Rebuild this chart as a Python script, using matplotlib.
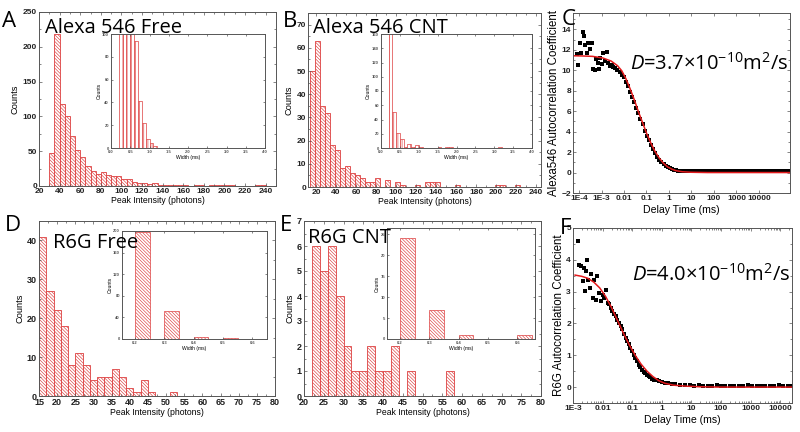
import numpy as np
import matplotlib
matplotlib.use('Agg')
import matplotlib.pyplot as plt
from matplotlib.ticker import MultipleLocator, LogLocator, NullFormatter

plt.rcParams['font.family'] = ['Liberation Sans', 'DejaVu Sans']
plt.rcParams['font.weight'] = 'bold'
plt.rcParams['hatch.linewidth'] = 0.45
plt.rcParams['mathtext.fontset'] = 'custom'
plt.rcParams['mathtext.rm'] = 'Open Sans:normal'
plt.rcParams['mathtext.it'] = 'Open Sans:italic:normal'

RED = '#dd3f3f'
FRAME = '#555555'
BIG = 'Open Sans'

# ---- data: peak intensity histograms (left edges, counts) ----
a_left = list(range(30, 240, 5))
a_counts = [48, 218, 118, 101, 72, 52, 42, 29, 22, 17, 20, 16, 14, 15, 10, 10, 6, 5, 4, 3,
            4, 2, 1, 1, 1, 1, 1, 0, 1, 1, 0, 1, 1, 1, 1, 1, 0, 0, 0, 0, 1, 1]
b_left = list(range(14, 224, 5))
b_counts = [50, 63, 35, 32, 18, 16, 8, 9, 6, 5, 4, 2, 2, 4, 0, 3, 0, 2, 1, 0,
            0, 1, 0, 2, 2, 2, 0, 0, 0, 1, 0, 0, 0, 0, 0, 0, 0, 1, 1, 0, 0, 1]
d_left = list(range(15, 53, 2))
d_counts = [41, 27, 22, 18, 8, 11, 8, 4, 5, 5, 7, 5, 2, 1, 4, 1, 0, 0, 1]
e_left = list(range(22, 58, 2))
e_counts = [6, 5, 6, 4, 2, 1, 1, 2, 1, 1, 2, 0, 1, 0, 0, 0, 0, 1]

# ---- data: width histograms (insets) ----
ai_left = [0.2, 0.3, 0.4, 0.5, 0.6, 0.7, 0.8, 0.9, 1.0, 1.1]
ai_counts = [400, 350, 250, 130, 94, 41, 22, 8, 4, 2]
bi_left = [0.2, 0.3, 0.4, 0.5, 0.6, 0.7, 0.8, 0.9, 1.0, 1.1, 1.2, 1.3, 1.4, 1.5, 1.6,
           1.7, 1.8, 1.9, 2.0, 2.1, 2.2, 2.3, 2.4, 2.5, 2.6, 2.7, 2.8, 2.9, 3.0, 3.1]
bi_counts = [170, 51, 21, 12, 2, 5, 1, 4, 2, 0, 0, 0, 0, 1, 0, 1, 1, 0, 0, 0,
             0, 0, 0, 0, 0, 0, 0, 0, 0, 1]
di_left = [0.2, 0.3, 0.4, 0.5]
di_counts = [198, 52, 3, 1]
ei_left = [0.2, 0.3, 0.4, 0.5, 0.6]
ei_counts = [24, 7, 1, 0, 1]

# ---- data: autocorrelation (log10 delay in ms, G) ----
c_logt = [-4.10, -4.03, -3.96, -3.92, -3.84, -3.76, -3.74, -3.66, -3.59, -3.51, -3.44, -3.39,
          -3.29, -3.24, -3.17, -3.11, -3.07, -2.99, -2.92, -2.85, -2.77, -2.70, -2.62, -2.55,
          -2.47, -2.38, -2.29, -2.20, -2.10, -2.01, -1.92, -1.82, -1.73, -1.64, -1.54, -1.45,
          -1.36, -1.27, -1.17, -1.08, -0.99, -0.89, -0.80, -0.71, -0.62, -0.52, -0.43, -0.34,
          -0.24, -0.15, -0.06, 0.04, 0.13, 0.22, 0.31, 0.41, 0.50, 0.59, 0.69, 0.78,
          0.93, 1.08, 1.23, 1.38, 1.53, 1.68, 1.83, 1.98, 2.13, 2.28, 2.43, 2.58, 2.73, 2.88,
          3.03, 3.18, 3.33, 3.48, 3.63, 3.78, 3.93, 4.08, 4.23, 4.38, 4.53, 4.68, 4.83, 4.98,
          5.13, 5.28]
c_g = [11.6, 10.5, 12.7, 11.7, 13.7, 13.4, 12.5, 11.7, 12.7, 12.1, 12.7, 10.1,
       10.0, 11.1, 10.7, 10.1, 11.2, 10.6, 11.7, 10.9, 11.8, 10.7, 10.4, 10.5,
       10.3, 10.2, 10.0, 9.8, 9.5, 9.3, 8.9, 8.5, 7.9, 7.4, 6.9, 6.3,
       5.8, 5.2, 4.7, 4.1, 3.6, 3.2, 2.7, 2.3, 1.9, 1.55, 1.25, 1.0,
       0.8, 0.65, 0.5, 0.4, 0.32, 0.27, 0.23, 0.2, 0.18, 0.17, 0.16, 0.15,
       0.14, 0.13, 0.15, 0.12, 0.14, 0.13, 0.12, 0.14, 0.13, 0.12, 0.14, 0.13, 0.12, 0.13,
       0.14, 0.12, 0.13, 0.12, 0.14, 0.13, 0.12, 0.13, 0.12, 0.14, 0.13, 0.12, 0.13, 0.12,
       0.14, 0.13]
c_fit_logt = [-4.3, -3.87, -3.40, -2.94, -2.57, -2.29, -2.10, -1.92, -1.73, -1.54, -1.36,
              -1.17, -0.99, -0.80, -0.62, -0.43, -0.24, -0.06, 0.13, 0.31, 0.59, 0.96, 1.71, 5.4]
c_fit = [11.42, 11.4, 11.36, 11.2, 10.9, 10.45, 9.95, 9.2, 8.2, 7.1, 5.95, 4.85, 3.8,
         2.85, 2.05, 1.4, 0.9, 0.55, 0.33, 0.18, 0.08, 0.03, 0.0, 0.0]

f_logt = [-2.83, -2.8, -2.72, -2.64, -2.67, -2.56, -2.61, -2.5, -2.44, -2.53, -2.39, -2.33,
          -2.28, -2.22, -2.2, -2.11, -2.06, -2.0, -1.94, -1.89, -1.83, -1.78, -1.72, -1.67,
          -1.61, -1.56, -1.5, -1.44, -1.39, -1.33, -1.28, -1.22, -1.17, -1.11, -1.06, -1.0,
          -0.94, -0.89, -0.83, -0.78, -0.72, -0.67, -0.61, -0.56, -0.5, -0.44, -0.39, -0.33,
          -0.25, -0.17, -0.08, 0.0, 0.11, 0.22, 0.33, 0.44, 0.6, 0.78, 0.95, 1.1, 1.25, 1.4,
          1.55, 1.7, 1.85, 2.0, 2.15, 2.3, 2.45, 2.6, 2.75, 2.9, 3.05, 3.2, 3.35, 3.5, 3.65,
          3.8, 3.95, 4.1, 4.25, 4.4]
f_g = [4.58, 3.85, 3.8, 3.75, 3.33, 3.64, 3.01, 3.38, 3.12, 4.0, 3.54, 2.8,
       3.38, 2.75, 3.48, 2.96, 2.7, 2.9, 2.8, 3.06, 2.65, 2.6, 2.5, 2.38,
       2.3, 2.23, 2.12, 2.02, 1.92, 1.81, 1.68, 1.55, 1.45, 1.34, 1.24, 1.13,
       1.02, 0.92, 0.82, 0.71, 0.62, 0.55, 0.49, 0.43, 0.39, 0.35, 0.31, 0.27,
       0.23, 0.21, 0.19, 0.17, 0.14, 0.12, 0.1, 0.09, 0.08, 0.07, 0.06, 0.05, 0.06, 0.05,
       0.04, 0.05, 0.06, 0.05, 0.04, 0.05, 0.05, 0.04, 0.05, 0.06, 0.05, 0.04, 0.05, 0.05, 0.04,
       0.05, 0.06, 0.05, 0.04, 0.05]
f_fit_logt = [-2.93, -2.7, -2.5, -2.3, -2.1, -1.9, -1.7, -1.5, -1.3, -1.1, -0.9, -0.7, -0.5,
              -0.3, -0.1, 0.1, 0.4, 0.8, 1.3, 2.0, 4.45]
f_fit = [3.52, 3.48, 3.42, 3.3, 3.12, 2.85, 2.5, 2.1, 1.7, 1.33, 1.0, 0.72, 0.5,
         0.33, 0.2, 0.12, 0.06, 0.03, 0.01, 0.0, 0.0]

W, H = 800, 432
fig = plt.figure(figsize=(8, 4.32), dpi=100)

HATCH = '\\' * 10


def box(l, t, r, b):
    return [l / W, 1 - b / H, (r - l) / W, (b - t) / H]


def style(ax, fs, color='#222222', tl=2.0):
    for s in ax.spines.values():
        s.set_color(FRAME)
        s.set_linewidth(0.7)
    ax.tick_params(which='both', direction='in', top=True, right=True, labelsize=fs,
                   width=0.5, color=FRAME, labelcolor=color, pad=1.5)
    ax.tick_params(which='major', length=tl)
    ax.tick_params(which='minor', length=tl * 0.6)


def bars(ax, left, counts, width, hatch, lw=0.6):
    ax.bar(left, counts, width=width, align='edge', color='white', edgecolor=RED,
           hatch=hatch, linewidth=lw)


def hist_main(rect, left, counts, width, xlim, ylim, xstep, ystep, fs, lfs):
    ax = fig.add_axes(rect)
    bars(ax, left, counts, width, HATCH)
    ax.set_xlim(*xlim)
    ax.set_ylim(*ylim)
    ax.xaxis.set_major_locator(MultipleLocator(xstep))
    ax.xaxis.set_minor_locator(MultipleLocator(xstep / 2))
    ax.yaxis.set_major_locator(MultipleLocator(ystep))
    ax.yaxis.set_minor_locator(MultipleLocator(ystep / 2))
    style(ax, fs)
    ax.set_xlabel('Peak Intensity (photons)', fontsize=lfs, labelpad=1)
    ax.set_ylabel('Counts', fontsize=lfs + 0.5, labelpad=2)
    return ax


def hist_inset(rect, left, counts, width, xlim, ylim, xstep, ystep, hatch):
    ax = fig.add_axes(rect)
    bars(ax, left, counts, width, hatch, lw=0.5)
    ax.set_xlim(*xlim)
    ax.set_ylim(*ylim)
    ax.xaxis.set_major_locator(MultipleLocator(xstep))
    ax.yaxis.set_major_locator(MultipleLocator(ystep))
    style(ax, 3, color='#555555', tl=1.5)
    ax.set_xlabel('Width (ms)', fontsize=3.6, labelpad=0.5)
    ax.set_ylabel('Counts', fontsize=3.6, labelpad=0.5)
    return ax


def fcs(rect, logt, g, fit_logt, fit, xlim, ylim, ticks, ticklabels, ylabel):
    ax = fig.add_axes(rect)
    ax.plot(np.power(10.0, logt), g, 's', color='black', markersize=2.7, markeredgewidth=0)
    ax.plot(np.power(10.0, fit_logt), fit, '-', color='#e31a1c', linewidth=1.1)
    ax.set_xscale('log')
    ax.set_xlim(*xlim)
    ax.set_ylim(*ylim)
    ax.set_xticks(ticks)
    ax.set_xticklabels(ticklabels)
    ax.xaxis.set_minor_locator(LogLocator(base=10, subs=np.arange(2, 10)))
    ax.xaxis.set_minor_formatter(NullFormatter())
    style(ax, 6.0)
    ax.set_xlabel('Delay Time (ms)', fontsize=7.6, labelpad=2)
    ax.set_ylabel(ylabel, fontsize=8.3, labelpad=1)
    return ax


# A
hist_main(box(39, 12, 276, 186), a_left, a_counts, 5, (20, 250), (0, 250), 20, 50, 6, 6.2)
hist_inset(box(111, 34, 265, 148), ai_left, ai_counts, 0.1, (0, 4), (0, 100), 0.5, 20, '||||')
# B
hist_main(box(308, 13, 541, 187), b_left, b_counts, 5, (12, 245), (0, 75), 20, 10, 6, 6.2)
hist_inset(box(381, 34, 532, 148), bi_left, bi_counts, 0.1, (0, 4), (0, 160), 0.5, 20, '||||')
# D
hist_main(box(39, 221, 275, 396), d_left, d_counts, 2, (15, 80), (0, 45), 5, 10, 6.5, 6.2)
hist_inset(box(122, 231, 267, 339), di_left, di_counts, 0.05, (0.156, 0.65), (0, 200), 0.1, 40,
           HATCH)
# E
hist_main(box(304, 221, 541, 396), e_left, e_counts, 2, (20, 80), (0, 7), 5, 1, 6.5, 6.2)
hist_inset(box(387, 228, 535, 339), ei_left, ei_counts, 0.05, (0.156, 0.66), (0, 26.5), 0.1, 5,
           HATCH)

# C
c_ticks = [1e-4, 1e-3, 1e-2, 1e-1, 1, 10, 100, 1000, 10000]
c_labels = ['1E-4', '1E-3', '0.01', '0.1', '1', '10', '100', '1000', '10000']
axc = fcs(box(573, 13, 790, 193), c_logt, c_g, c_fit_logt, c_fit, (5.4e-5, 2.4e5), (-2, 15.6),
          c_ticks, c_labels, 'Alexa546 Autocorrelation Coefficient')
axc.yaxis.set_major_locator(MultipleLocator(2))
axc.yaxis.set_minor_locator(MultipleLocator(1))
# F
f_ticks = [1e-3, 1e-2, 1e-1, 1, 10, 100, 1000, 10000]
f_labels = ['1E-3', '0.01', '0.1', '1', '10', '100', '1000', '10000']
axf = fcs(box(573, 228, 792, 403), f_logt, f_g, f_fit_logt, f_fit, (1.2e-3, 2.5e4), (-0.5, 5),
          f_ticks, f_labels, 'R6G Autocorrelation Coefficient')
axf.yaxis.set_major_locator(MultipleLocator(1))
axf.yaxis.set_minor_locator(MultipleLocator(0.5))


def label(x, y, s, size=14.5):
    fig.text(x / W, 1 - y / H, s, fontsize=size, family=BIG, weight='normal',
             ha='left', va='baseline', color='black')


label(2, 27, 'A', 16)
label(283, 27, 'B', 16)
label(562, 25, 'C', 16)
label(5, 231, 'D', 16)
label(280, 231, 'E', 16)
label(560, 234, 'F', 16)
label(45, 33, 'Alexa 546 Free')
label(313, 33, 'Alexa 546 CNT')
label(53, 248, 'R6G Free')
label(308, 243, 'R6G CNT')
label(630, 70, r'$\mathit{D}$=3.7×10$^{-10}$m$^{2}$/s')
label(632, 281, r'$\mathit{D}$=4.0×10$^{-10}$m$^{2}$/s')

fig.savefig('out.png', dpi=100)
